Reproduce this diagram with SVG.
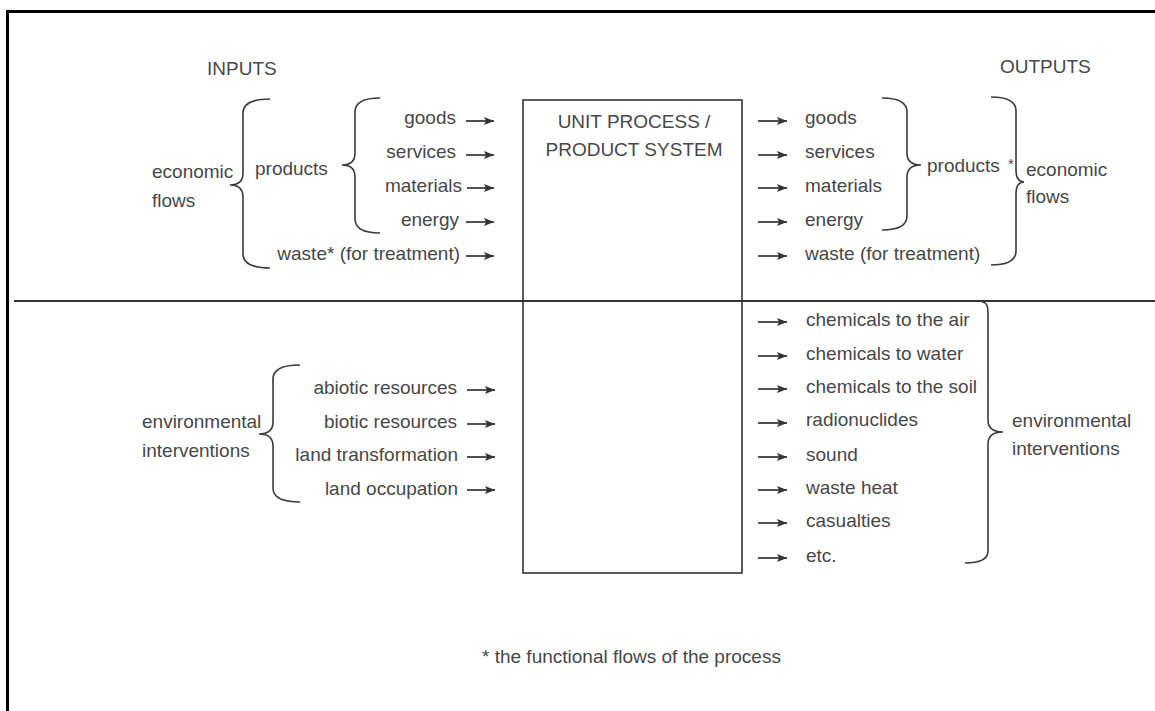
<svg xmlns="http://www.w3.org/2000/svg" width="1155" height="711" viewBox="0 0 1155 711">
<defs>
<marker id="ah" markerUnits="userSpaceOnUse" markerWidth="11" markerHeight="9" refX="10" refY="4.5" orient="auto">
<path d="M0,0.5 L10,4.5 L0,8.5 L2,4.5 Z" fill="#333"/>
</marker>
<style>
text{font-family:"Liberation Sans",Arial,sans-serif;font-size:19px;fill:#474747}
.e{text-anchor:end}
.m{text-anchor:middle}
.br{fill:none;stroke:#3a3a3a;stroke-width:1.6}
.ar{stroke:#333;stroke-width:1.7;marker-end:url(#ah)}
</style>
</defs>
<rect width="1155" height="711" fill="#fff"/>
<g id="frame" fill="none" stroke="#000" stroke-width="3">
<path d="M7.5,711 V11.5 H1155"/>
</g>
<line id="divider" x1="14" y1="301" x2="1155" y2="301" stroke="#333" stroke-width="2"/>
<g id="headings">
<text x="207" y="75">INPUTS</text>
<text x="1000" y="73">OUTPUTS</text>
</g>
<g id="process">
<rect x="523" y="100" width="219" height="473" fill="none" stroke="#333" stroke-width="1.6"/>
<text class="m" x="634" y="128">UNIT PROCESS /</text>
<text class="m" x="634" y="156">PRODUCT SYSTEM</text>
</g>
<g id="input-economic">
<path class="br" d="M270,99 Q243,99 243,113 L243,173 Q243,185 230,185 Q243,185 243,197 L243,254 Q243,268 270,268"/>
<text x="152" y="178">economic</text>
<text x="152" y="207">flows</text>
<path class="br" d="M380,98 Q355,98 355,112 L355,153 Q355,165 342,165 Q355,165 355,177 L355,219 Q355,233 380,233"/>
<text x="255" y="175">products</text>
<text class="e" x="456" y="124">goods</text>
<text class="e" x="456" y="158">services</text>
<text class="e" x="462" y="192">materials</text>
<text class="e" x="459" y="226">energy</text>
<text class="e" x="460" y="260">waste* (for treatment)</text>
</g>
<g id="input-environmental">
<path class="br" d="M300,365 Q273,365 273,379 L273,422 Q273,434 259,434 Q273,434 273,446 L273,488 Q273,502 300,502"/>
<text x="142" y="428">environmental</text>
<text x="142" y="457">interventions</text>
<text class="e" x="457" y="394">abiotic resources</text>
<text class="e" x="457" y="428">biotic resources</text>
<text class="e" x="458" y="461">land transformation</text>
<text class="e" x="458" y="495">land occupation</text>
</g>
<g id="output-economic">
<text x="805" y="124">goods</text>
<text x="805" y="158">services</text>
<text x="805" y="192">materials</text>
<text x="805" y="226">energy</text>
<text x="805" y="260">waste (for treatment)</text>
<path class="br" d="M882,98 Q907,98 907,112 L907,153 Q907,165 921,165 Q907,165 907,177 L907,216 Q907,230 882,230"/>
<text x="927" y="172">products</text>
<text x="1008" y="169" style="font-size:15px">*</text>
<path class="br" d="M991,97 Q1016,97 1016,111 L1016,170 Q1016,182 1024,182 Q1016,182 1016,194 L1016,251 Q1016,265 991,265"/>
<text x="1026" y="176">economic</text>
<text x="1026" y="203">flows</text>
</g>
<g id="output-environmental">
<text x="806" y="326">chemicals to the air</text>
<text x="806" y="360">chemicals to water</text>
<text x="806" y="393">chemicals to the soil</text>
<text x="806" y="426">radionuclides</text>
<text x="806" y="461">sound</text>
<text x="806" y="494">waste heat</text>
<text x="806" y="527">casualties</text>
<text x="806" y="562">etc.</text>
<path class="br" d="M982,302 Q988,302 988,312 L988,420 Q988,432 1003,432 Q988,432 988,444 L988,551 Q988,563 965,563"/>
<text x="1012" y="427">environmental</text>
<text x="1012" y="455">interventions</text>
</g>
<g id="connectors">
<line class="ar" x1="466" y1="121" x2="494" y2="121"/>
<line class="ar" x1="466" y1="155" x2="494" y2="155"/>
<line class="ar" x1="467" y1="188" x2="494" y2="188"/>
<line class="ar" x1="466" y1="222" x2="494" y2="222"/>
<line class="ar" x1="466" y1="256" x2="494" y2="256"/>
<line class="ar" x1="467" y1="390" x2="495" y2="390"/>
<line class="ar" x1="467" y1="424" x2="495" y2="424"/>
<line class="ar" x1="467" y1="457" x2="495" y2="457"/>
<line class="ar" x1="467" y1="490" x2="495" y2="490"/>
<line class="ar" x1="758" y1="121" x2="787" y2="121"/>
<line class="ar" x1="758" y1="155" x2="787" y2="155"/>
<line class="ar" x1="758" y1="188" x2="787" y2="188"/>
<line class="ar" x1="758" y1="222" x2="787" y2="222"/>
<line class="ar" x1="758" y1="256" x2="787" y2="256"/>
<line class="ar" x1="758" y1="322" x2="787" y2="322"/>
<line class="ar" x1="758" y1="356" x2="787" y2="356"/>
<line class="ar" x1="758" y1="389" x2="787" y2="389"/>
<line class="ar" x1="758" y1="423" x2="787" y2="423"/>
<line class="ar" x1="758" y1="457" x2="787" y2="457"/>
<line class="ar" x1="758" y1="490" x2="787" y2="490"/>
<line class="ar" x1="758" y1="523" x2="787" y2="523"/>
<line class="ar" x1="758" y1="558" x2="787" y2="558"/>
</g>
<g id="footnote">
<text x="482" y="663">* the functional flows of the process</text>
</g>
</svg>
